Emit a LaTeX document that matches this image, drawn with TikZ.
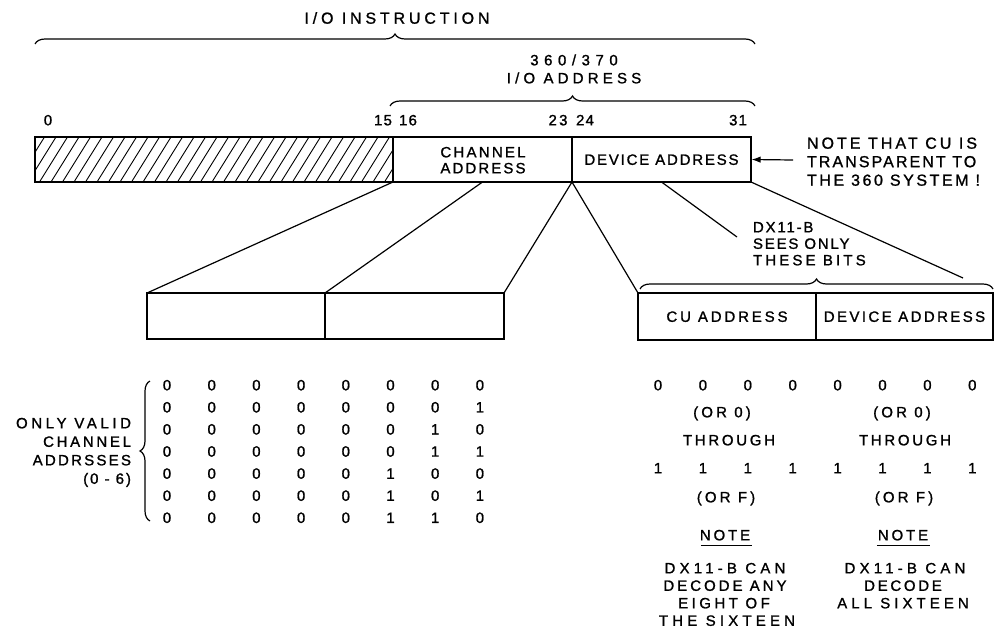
\documentclass[tikz,border=0pt]{standalone}
\usepackage{fontspec}
\setmainfont{Liberation Sans}[FakeBold=1.2]
\usetikzlibrary{decorations.pathreplacing,arrows.meta}
\newcommand\myfs[2]{\fontsize{#1}{#1}\selectfont\addfontfeature{LetterSpace=#2}}
\begin{document}
\begin{tikzpicture}[x=1pt,y=-1pt,
  t/.style={inner sep=0pt, outer sep=0pt, text height=10.7pt, text depth=0pt, font=\myfs{15}{22}},
  tb/.style={inner sep=0pt, outer sep=0pt, text height=11.4pt, text depth=0pt, font=\myfs{16}{#1}},
  ts/.style={t, font=\myfs{15}{#1}},
  dig/.style={t, font=\myfs{15}{0}},
  cell/.style={draw, line width=2.2pt, inner sep=0pt, outer sep=0pt, text height=10.7pt, text depth=0pt, font=\myfs{15}{#1}},
  thin/.style={line width=1.2pt},
  brc/.style={decorate, decoration={brace, amplitude=10pt}, line width=1.2pt},
]
\useasboundingbox (0,0) rectangle (995,634);

% ---- main instruction bar
\node[cell=0, minimum width=358pt, minimum height=45pt] (hatch) at (214,159.5) {};
\begin{scope}
  \clip (hatch.south west) rectangle (hatch.north east);
  \foreach \x in {-30,-18.5,...,370}
    \draw[line width=0.9pt] ([xshift=\x pt]hatch.south west) -- ++(28,-45);
\end{scope}
\draw[line width=2.2pt] (hatch.south west) rectangle (hatch.north east);
\node[cell=0, minimum width=179pt, minimum height=45pt] (chan) at (482.5,159.5) {};
\node[cell=12, minimum width=179pt, minimum height=45pt] (dev) at (661.5,159.5) {DEVICE ADDRESS};
\node[ts=15] (chan1) at (483,152) {CHANNEL};
\node[ts=14] (chan2) at (483,168) {ADDRESS};

% ---- labels above
\node[tb=24] (ioi) at (397,18) {I/O INSTRUCTION};
\draw[brc] (35,44) -- (755,44);
\node[ts=37] (n360) at (574,60) {360/370};
\node[ts=28] (ioa) at (574,78) {I/O ADDRESS};
\draw[brc] (390,106) -- (755,106);
\node[ts=8] (b0) at (48,120) {0};
\node[ts=8] (b15) at (383,120) {15};
\node[ts=8] (b16) at (408,120) {16};
\node[ts=15] (b23) at (558,120) {23};
\node[ts=8] (b24) at (585,120) {24};
\node[ts=8] (b31) at (738,120) {31};

% ---- note at right
\node[tb=19, anchor=west] (nt1) at (807,143) {NOTE THAT CU IS};
\node[tb=13, anchor=west] (nt2) at (807,161.5) {TRANSPARENT TO};
\node[tb=16, anchor=west] (nt3) at (807,180) {THE 360 SYSTEM !};
\coordinate (arrs) at (793,160);
\draw[thin, -{Latex[length=9pt,width=6.5pt]}, shorten >=0.6pt] (arrs) -- (dev.east);

% ---- lower boxes
\node[cell=0, minimum width=178pt, minimum height=46pt] (lb1) at (236,316) {};
\node[cell=0, minimum width=179pt, minimum height=46pt] (lb2) at (414.5,316) {};
\node[cell=19, minimum width=178pt, minimum height=47pt] (rb1) at (727,316.5) {CU ADDRESS};
\node[cell=16, minimum width=177pt, minimum height=47pt] (rb2) at (904.5,316.5) {DEVICE ADDRESS};

% ---- connectors
\coordinate (dxend) at (737,237);
\coordinate (brend) at (963,278);
\draw[thin] (hatch.south east) -- (lb1.north west);
\draw[thin] (chan.south) -- (lb2.north west);
\draw[thin] (chan.south east) -- (lb2.north east);
\draw[thin] (dev.south west) -- (rb1.north west);
\draw[thin] (dev.south) -- (dxend);
\draw[thin] (dev.south east) -- (brend);

% ---- DX11-B sees only these bits
\node[ts=12, anchor=west] (dx1) at (753,227) {DX11-B};
\node[ts=12, anchor=west] (dx2) at (753,243.5) {SEES ONLY};
\node[ts=21, anchor=west] (dx3) at (753,260) {THESE BITS};
\draw[brc] (640,289) -- (993,289);

% ---- valid channel addresses
\foreach \row [count=\r from 0] in {{0,0,0,0,0,0,0,0},{0,0,0,0,0,0,0,1},{0,0,0,0,0,0,1,0},{0,0,0,0,0,0,1,1},{0,0,0,0,0,1,0,0},{0,0,0,0,0,1,0,1},{0,0,0,0,0,1,1,0}}
  \foreach \b [count=\c from 0] in \row
    \node[dig] (m\r\c) at ({167+44.7*\c},{385+22.1*\r}) {\b};
\draw[brc] (150,521) -- (150,381);
\node[ts=24, anchor=east] (v1) at (131,423) {ONLY VALID};
\node[ts=18, anchor=east] (v2) at (131,441.5) {CHANNEL};
\node[ts=15, anchor=east] (v3) at (131,460) {ADDRSSES};
\node[ts=13, anchor=east] (v4) at (131,478.5) {(0 - 6)};

% ---- CU / device bit ranges
\foreach \c in {0,...,7} {
  \node[dig] (z\c) at ({658+44.9*\c},385) {0};
  \node[dig] (o\c) at ({658+44.9*\c},468) {1};
}
\node[ts=21] (or0a) at (722,412) {(OR 0)};
\node[ts=21] (or0b) at (902,412) {(OR 0)};
\node[ts=18] (thra) at (729,440) {THROUGH};
\node[ts=18] (thrb) at (905,440) {THROUGH};
\node[ts=21] (orfa) at (726,497) {(OR F)};
\node[ts=21] (orfb) at (904,497) {(OR F)};
\node[ts=19] (nta) at (725,535) {NOTE};
\node[ts=19] (ntb) at (903,535) {NOTE};
\draw[thin] ([xshift=1pt,yshift=-4.8pt]nta.south west) -- ([xshift=2pt,yshift=-4.8pt]nta.south east);
\draw[thin] ([xshift=-1pt,yshift=-4.8pt]ntb.south west) -- ([xshift=2pt,yshift=-4.8pt]ntb.south east);
\node[ts=28] (la1) at (725,568) {DX11-B CAN};
\node[ts=20] (la2) at (725,585.5) {DECODE ANY};
\node[ts=23] (la3) at (724,603) {EIGHT OF};
\node[ts=28] (la4) at (727,620.5) {THE SIXTEEN};
\node[ts=28] (ra1) at (905,568) {DX11-B CAN};
\node[ts=18] (ra2) at (903,585.5) {DECODE};
\node[ts=27] (ra3) at (903,603) {ALL SIXTEEN};
\end{tikzpicture}
\end{document}
